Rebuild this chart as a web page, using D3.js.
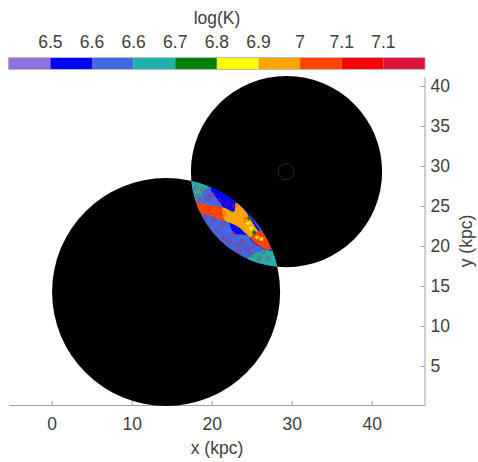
<!DOCTYPE html>
<html>
<head>
<meta charset="utf-8">
<script src="https://d3js.org/d3.v7.min.js"></script>
<style>
  html, body { margin: 0; background: #fff; }
  text { font-family: "Liberation Sans", Arial, sans-serif; fill: #404040; }
  .axis path, .axis line { stroke: #a0a0a0; }
</style>
</head>
<body>
<div id="chart"></div>
<script>
// colorbar
const barColors = ["mediumpurple", "blue", "royalblue", "lightseagreen", "green", "yellow", "orange", "orangered", "red", "crimson"]
const barTicks = [6.47, 6.554, 6.638, 6.722, 6.806, 6.89, 6.974, 7.058, 7.142]
const barLabels = ["6.5", "6.6", "6.6", "6.7", "6.8", "6.9", "7", "7.1", "7.1"]

// axes
const xTicks = [0, 10, 20, 30, 40]
const yTicks = [5, 10, 15, 20, 25, 30, 35, 40]

// the two discs and the little ring, [x, y, r] in kpc
const discA = [14.3, 14.25, 14.25]
const discB = [29.35, 29.3, 11.95]
const ring = [29.3, 29.3, 1]

// temperature patches inside the overlap, outlines in kpc
const lensBaseTemp = 6.6
const patchTemps = [6.68, 6.68, 6.5, 7.0, 6.93, 7.0]
const patchOutlines = [
  [[17, 28.3], [19.5, 27.6], [18.7, 26.4], [17.8, 25.3], [17, 27]],
  [[24.5, 18.4], [25.95, 19.3], [28.1, 19.7], [28.3, 17], [25, 17]],
  [[19.9, 27.2], [23.3, 25.8], [25.6, 22.6], [27.5, 19.4], [25.1, 20.5], [24.5, 21.3], [22.8, 21.6], [22.2, 22.8], [21.4, 24.9]],
  [[18, 25.4], [19.7, 25.1], [21.4, 24.8], [22.2, 24.2], [21.8, 23.2], [20.1, 23.7], [18.4, 24.3]],
  [[21.4, 24.8], [22.8, 24.3], [23, 25.4], [24.1, 24.5], [25.3, 22.6], [27.2, 19.7], [24.9, 21], [23.3, 22.4], [21.6, 23.3]],
  [[24.9, 21], [26, 21.9], [27.1, 20.6], [27.3, 19.5], [26, 20]]
]

// hot speckles near the upper edge
const warmX = [24.9, 25.3, 25.7, 26.2, 24.5, 24.7]
const warmY = [22.2, 21.7, 21.1, 20.9, 22.9, 23.5]
const warmTemps = [6.85, 6.76, 6.85, 6.85, 6.85, 6.76]

// faint rings scattered over the lens
const speckX = [18.05, 18.88, 18.26, 19.5, 20.13, 20.96, 22, 22.83, 19.09, 20.13, 19.5, 20.75, 21.38, 21.58, 22.2, 20.54, 22.83, 23.25, 23.87, 24.5, 25.33, 23.45, 24.9, 25.95, 26.37, 27, 19.5, 21.4, 24.3, 25.95]
const speckY = [27.2, 27, 26.17, 25.96, 26.38, 25.54, 25.33, 25.1, 23.67, 23.25, 22.42, 22, 22.83, 20.96, 20.54, 20.75, 21.38, 20.13, 20.54, 19.7, 20.13, 19.3, 18.88, 18.46, 19.3, 18.46, 24.7, 24.1, 23.25, 21.2]

const width = 478
const height = 462
const plotLeft = 8.5, plotRight = 424.5, plotTop = 77, plotBottom = 405

var x = d3.scaleLinear().domain([-5.4, 46.6]).range([plotLeft, plotRight])
var y = d3.scaleLinear().domain([0.125, 41.125]).range([plotBottom, plotTop])
var kpc = d3.scaleLinear().domain([0, 1]).range([0, 8])
var color = d3.scaleThreshold().domain(barTicks).range(barColors)

var svg = d3.select("#chart").append("svg")
  .attr("width", width)
  .attr("height", height)
  .style("display", "block")

// Axes sit under the discs
var xAxis = svg.append("g")
  .attr("class", "axis")
  .attr("transform", `translate(0,${plotBottom})`)
  .call(d3.axisBottom(x).tickValues(xTicks).tickSizeInner(-4).tickSizeOuter(0).tickPadding(13).tickFormat(d3.format("d")))
var yAxis = svg.append("g")
  .attr("class", "axis")
  .attr("transform", `translate(${plotRight},0)`)
  .call(d3.axisRight(y).tickValues(yTicks).tickSizeInner(-4).tickSizeOuter(0).tickPadding(6).tickFormat(d3.format("d")))
svg.selectAll(".axis text").style("font-size", "17.5px")
svg.selectAll(".axis").attr("font-family", null).attr("font-size", null)

// Discs
svg.selectAll("circle.disc")
  .data([discA, discB]).enter()
  .append("circle")
    .attr("class", "disc")
    .attr("cx", d => x(d[0]))
    .attr("cy", d => y(d[1]))
    .attr("r", d => kpc(d[2]))
    .attr("fill", "black")

svg.append("circle")
  .attr("cx", x(ring[0]))
  .attr("cy", y(ring[1]))
  .attr("r", kpc(ring[2]))
  .attr("fill", "none")
  .attr("stroke", "#2a2a2a")

// Overlap of the discs, nested clips
var defs = svg.append("defs")
defs.append("clipPath").attr("id", "clipA").append("circle")
  .attr("cx", x(discA[0])).attr("cy", y(discA[1])).attr("r", kpc(discA[2]))
defs.append("clipPath").attr("id", "clipB").append("circle")
  .attr("cx", x(discB[0])).attr("cy", y(discB[1])).attr("r", kpc(discB[2]))

var lens = svg.append("g").attr("clip-path", "url(#clipA)")
  .append("g").attr("clip-path", "url(#clipB)")

lens.append("rect")
  .attr("x", plotLeft).attr("y", plotTop)
  .attr("width", plotRight - plotLeft).attr("height", plotBottom - plotTop)
  .attr("fill", color(lensBaseTemp))

var outline = d3.line().x(d => x(d[0])).y(d => y(d[1])).curve(d3.curveCatmullRomClosed)

lens.selectAll("path.patch")
  .data(patchOutlines).enter()
  .append("path")
    .attr("class", "patch")
    .attr("d", outline)
    .attr("fill", (d, i) => color(patchTemps[i]))

lens.selectAll("circle.warm")
  .data(warmX).enter()
  .append("circle")
    .attr("class", "warm")
    .attr("cx", d => x(d))
    .attr("cy", (d, i) => y(warmY[i]))
    .attr("r", 2)
    .attr("fill", (d, i) => color(warmTemps[i]))

lens.selectAll("circle.speck")
  .data(speckX).enter()
  .append("circle")
    .attr("class", "speck")
    .attr("cx", d => x(d))
    .attr("cy", (d, i) => y(speckY[i]))
    .attr("r", 2.4)
    .attr("fill", "crimson")
    .attr("fill-opacity", 0.15)
    .attr("stroke", "crimson")
    .attr("stroke-opacity", 0.4)

// Colorbar
var bar = d3.scaleBand().domain(d3.range(barColors.length)).range([8.7, 425])

svg.selectAll("rect.swatch")
  .data(barColors).enter()
  .append("rect")
    .attr("class", "swatch")
    .attr("x", (d, i) => bar(i))
    .attr("y", 58)
    .attr("width", bar.bandwidth())
    .attr("height", 11)
    .attr("fill", d => d)

svg.append("rect")
  .attr("x", 8.5).attr("y", 57.5)
  .attr("width", 416.5).attr("height", 12)
  .attr("fill", "none")
  .attr("stroke", "#a0a0a0")
  .attr("stroke-opacity", 0.7)

svg.selectAll("text.barlabel")
  .data(barLabels).enter()
  .append("text")
    .attr("class", "barlabel")
    .attr("x", (d, i) => bar(i) + bar.bandwidth())
    .attr("y", 48)
    .attr("text-anchor", "middle")
    .style("font-size", "17.5px")
    .text(d => d)

// Titles
svg.append("text")
  .attr("x", 217).attr("y", 24)
  .attr("text-anchor", "middle")
  .style("font-size", "17.5px")
  .text("log(K)")

svg.append("text")
  .attr("x", 217).attr("y", 454)
  .attr("text-anchor", "middle")
  .style("font-size", "17.5px")
  .text("x (kpc)")

svg.append("text")
  .attr("transform", "translate(472,241) rotate(-90)")
  .attr("text-anchor", "middle")
  .style("font-size", "17.5px")
  .text("y (kpc)")
</script>
</body>
</html>
